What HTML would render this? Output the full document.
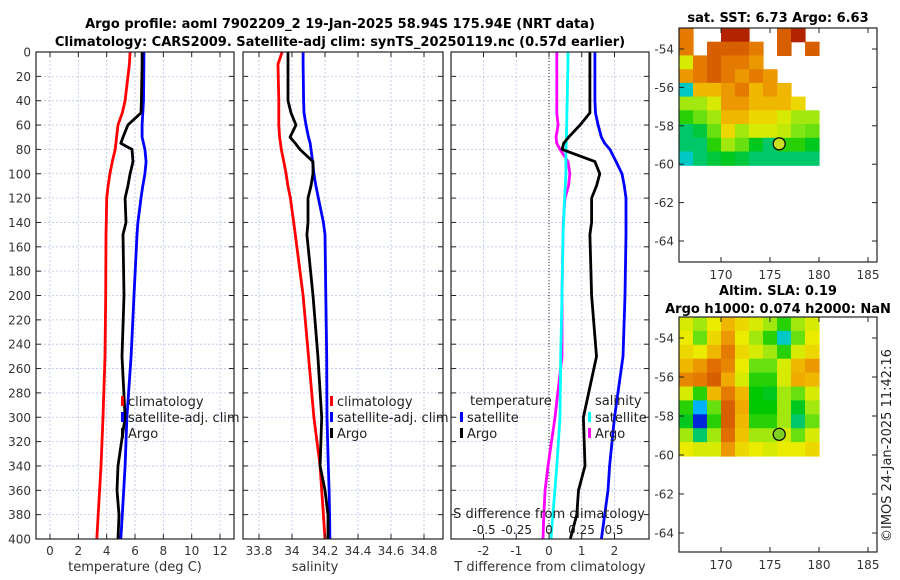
<!DOCTYPE html>
<html><head><meta charset="utf-8">
<style>
body{margin:0;background:#fff;}
svg{display:block;font-family:"DejaVu Sans","Liberation Sans",sans-serif;}
</style></head>
<body>
<svg id="fig" width="900" height="580" viewBox="0 0 900 580">
<text x="340" y="28" font-size="13" font-weight="bold" text-anchor="middle">Argo profile: aoml 7902209_2 19-Jan-2025 58.94S 175.94E (NRT data)</text>
<text x="340" y="46" font-size="13" font-weight="bold" text-anchor="middle">Climatology: CARS2009. Satellite-adj clim: synTS_20250119.nc (0.57d earlier)</text>
<text x="778" y="22" font-size="13" font-weight="bold" text-anchor="middle">sat. SST: 6.73 Argo: 6.63</text>
<text x="778" y="295" font-size="13" font-weight="bold" text-anchor="middle">Altim. SLA: 0.19</text>
<text x="778" y="313" font-size="13" font-weight="bold" text-anchor="middle">Argo h1000: 0.074 h2000: NaN</text>
<text transform="translate(891,542) rotate(-90)" font-size="13" fill="#222">©IMOS 24-Jan-2025 11:42:16</text>
</svg>
<script>
// ---- data ----
const depths = [0,10,40,50,60,70,75,80,90,100,110,120,140,150,200,250,300,340,360,380,400];
const tempClim = [5.65,5.6,5.3,5.1,4.8,4.7,4.65,4.6,4.4,4.23,4.1,4.0,3.97,3.95,3.93,3.88,3.74,3.6,3.5,3.4,3.3];
const tempSat = [6.63,6.63,6.6,6.55,6.5,6.5,6.6,6.7,6.78,6.7,6.55,6.42,6.2,6.14,5.93,5.72,5.43,5.3,5.2,5.1,5.0];
const tempArgo = [6.5,6.5,6.45,6.42,5.5,5.15,5.0,5.79,5.86,5.65,5.5,5.3,5.36,5.15,5.22,5.08,5.3,4.8,4.73,4.87,4.8];
const salClim = [33.94,33.915,33.92,33.92,33.92,33.925,33.93,33.935,33.95,33.964,33.975,33.99,34.01,34.02,34.067,34.10,34.133,34.17,34.18,34.19,34.2];
const salSat = [34.067,34.067,34.07,34.073,34.085,34.1,34.11,34.115,34.125,34.133,34.145,34.16,34.19,34.2,34.205,34.21,34.212,34.22,34.225,34.228,34.23];
const salArgo = [33.976,33.976,33.976,33.994,34.024,33.988,34.02,34.048,34.127,34.127,34.115,34.097,34.097,34.09,34.127,34.157,34.18,34.17,34.2,34.218,34.218];
const tDiffSat = [1.4,1.4,1.4,1.42,1.5,1.6,1.7,1.86,2.05,2.23,2.3,2.35,2.35,2.35,2.32,2.26,2.0,1.85,1.8,1.7,1.6];
const tDiffArgo = [1.25,1.25,1.25,1.25,0.95,0.6,0.45,0.4,1.4,1.55,1.45,1.3,1.3,1.25,1.3,1.45,1.05,1.1,0.9,0.85,0.65];
const sDiffSat = [0.146,0.145,0.14,0.138,0.136,0.134,0.132,0.13,0.13,0.13,0.125,0.12,0.112,0.108,0.1,0.09,0.085,0.06,0.045,0.03,0.015];
const sDiffArgo = [0.06,0.06,0.06,0.06,0.07,0.054,0.06,0.085,0.146,0.16,0.15,0.123,0.11,0.108,0.1,0.1,0.046,-0.008,-0.03,-0.04,-0.046];
const depthTicks = [0,20,40,60,80,100,120,140,160,180,200,220,240,260,280,300,320,340,360,380,400];
const tempTicks = [0,2,4,6,8,10,12];
const salTicks = [33.8,34,34.2,34.4,34.6,34.8];
const salTickLabels = ["33.8","34","34.2","34.4","34.6","34.8"];
const tDiffTicks = [-2,-1,0,1,2];
const sDiffTicks = [-0.5,-0.25,0,0.25,0.5];
const sDiffTickLabels = ["-0.5","-0.25","0","0.25","0.5"];
const latTicks = [-54,-56,-58,-60,-62,-64];
const lonTicks = [170,175,180,185];
const argoLon = 175.94, argoLat = -58.94;
const sstGrid = [
[0.8,-1,-1,0.95,0.95,-1,-1,0.85,0.95,-1],
[0.8,-1,0.85,0.85,0.85,0.8,-1,0.85,-1,0.85],
[0.6,0.8,0.85,0.8,0.8,0.75,-1,-1,-1,-1],
[0.75,0.8,0.85,0.8,0.75,0.8,0.75,-1,-1,-1],
[0.3,0.7,0.7,0.75,0.8,0.7,0.75,0.7,-1,-1],
[0.55,0.55,0.6,0.75,0.75,0.7,0.7,0.7,0.65,-1],
[0.45,0.5,0.55,0.7,0.7,0.65,0.65,0.6,0.55,0.55],
[0.35,0.38,0.5,0.65,0.55,0.6,0.6,0.58,0.52,0.5],
[0.35,0.35,0.45,0.55,0.5,0.4,0.35,0.45,0.45,0.4],
[0.3,0.35,0.38,0.4,0.38,0.35,0.35,0.35,0.35,0.35]];
const slaGrid = [
[0.6,0.55,0.62,0.7,0.65,0.6,0.55,0.45,0.55,0.6],
[0.62,0.5,0.65,0.75,0.62,0.55,0.45,0.3,0.5,0.62],
[0.65,0.62,0.7,0.8,0.65,0.6,0.55,0.45,0.6,0.65],
[0.7,0.75,0.82,0.78,0.62,0.5,0.5,0.6,0.7,0.75],
[0.78,0.8,0.85,0.72,0.6,0.45,0.45,0.6,0.72,0.7],
[0.6,0.45,0.7,0.8,0.7,0.42,0.4,0.55,0.5,0.6],
[0.45,0.25,0.5,0.85,0.72,0.42,0.42,0.55,0.4,0.55],
[0.4,0.1,0.45,0.85,0.7,0.45,0.45,0.55,0.35,0.5],
[0.55,0.35,0.55,0.82,0.68,0.55,0.55,0.6,0.5,0.6],
[0.62,0.6,0.6,0.75,0.65,0.62,0.6,0.62,0.62,0.65]];

// ---- helpers ----
const svg = document.getElementById('fig');
const NS = 'http://www.w3.org/2000/svg';
function mk(tag, attrs, parent){const e=document.createElementNS(NS,tag);for(const k in attrs)e.setAttribute(k,attrs[k]);(parent||svg).appendChild(e);return e;}
const TOP=52, BOT=539;
const yD = d => TOP + d*(BOT-TOP)/400;

function panel(name,left,right,xs,ticks){
  const g=mk('g',{});
  
  
  ticks.forEach(t=>{const x=xs(t);mk('line',{x1:x,x2:x,y1:TOP,y2:BOT,stroke:'#b8c4e8','stroke-width':0.8,'stroke-dasharray':'2,2'},g);});
  depthTicks.forEach(d=>{mk('line',{x1:left,x2:right,y1:yD(d),y2:yD(d),stroke:'#b8c4e8','stroke-width':0.8,'stroke-dasharray':'2,2'},g);});
  return g;
}
function frame(g,left,right,xs,ticks,labels,showDepth){
  mk('rect',{x:left,y:TOP,width:right-left,height:BOT-TOP,fill:'none',stroke:'#222','stroke-width':1.2},g);
  ticks.forEach((t,i)=>{const x=xs(t);
    mk('line',{x1:x,x2:x,y1:BOT,y2:BOT-5,stroke:'#222'},g);mk('line',{x1:x,x2:x,y1:TOP,y2:TOP+5,stroke:'#222'},g);
    const tx=mk('text',{x:x,y:BOT+16,'font-size':12,'text-anchor':'middle',fill:'#333'},g);tx.textContent=labels?labels[i]:String(t);
    
    
  });
  depthTicks.forEach(d=>{const y=yD(d);
    mk('line',{x1:left,x2:left+5,y1:y,y2:y,stroke:'#222'},g);mk('line',{x1:right,x2:right-5,y1:y,y2:y,stroke:'#222'},g);
    if(showDepth){const tx=mk('text',{x:left-5,y:y+4.5,'font-size':12,'text-anchor':'end',fill:'#333'},g);tx.textContent=String(d);
      
      }
  });
}
function line(g,vals,xs,color,name){
  const pts=vals.map((v,i)=>xs(v).toFixed(1)+','+yD(depths[i]).toFixed(1)).join(' ');
  const p=mk('polyline',{points:pts,fill:'none',stroke:color,'stroke-width':2.8,'stroke-linejoin':'round'},g);
  
  
}
function legItem(g,x,y,color,label){
  if(color) mk('rect',{x:x,y:y-10,width:3,height:10,fill:color},g);
  const t=mk('text',{x:x+7,y:y,'font-size':13,fill:'#222'},g);t.textContent=label;
  
  
}
function xlabel(g,x,text){const t=mk('text',{x:x,y:571,'font-size':13,'text-anchor':'middle',fill:'#333'},g);t.textContent=text;
  
  }

// Panel 1 temperature
const xT = t => 50 + t*14.17;
let g1=panel('temperature-panel',36,234,xT,tempTicks);
line(g1,tempClim,xT,'#ff0000','temp-climatology-line');
line(g1,tempSat,xT,'#0000ff','temp-satellite-line');
line(g1,tempArgo,xT,'#000000','temp-argo-line');
frame(g1,36,234,xT,tempTicks,null,true);
legItem(g1,121,406,'#ff0000','climatology');legItem(g1,121,422,'#0000ff','satellite-adj. clim');legItem(g1,121,438,'#000000','Argo');
xlabel(g1,135,'temperature (deg C)');

// Panel 2 salinity
const xS = s => 259 + (s-33.8)*165;
let g2=panel('salinity-panel',243,443,xS,salTicks);
line(g2,salClim,xS,'#ff0000','sal-climatology-line');
line(g2,salSat,xS,'#0000ff','sal-satellite-line');
line(g2,salArgo,xS,'#000000','sal-argo-line');
frame(g2,243,443,xS,salTicks,salTickLabels,false);
legItem(g2,330,406,'#ff0000','climatology');legItem(g2,330,422,'#0000ff','satellite-adj. clim');legItem(g2,330,438,'#000000','Argo');
xlabel(g2,315,'salinity');

// Panel 3 differences
const xTd = d => 549 + d*32.75;
const xSd = d => 549 + d*130;
let g3=panel('difference-panel',451,649,xTd,tDiffTicks);
mk('line',{x1:549,x2:549,y1:TOP,y2:BOT,stroke:'#333','stroke-width':1,'stroke-dasharray':'1,2'},g3);
line(g3,sDiffArgo,xSd,'#ff00ff','s-diff-argo-line');
line(g3,sDiffSat,xSd,'#00ffff','s-diff-satellite-line');
line(g3,tDiffArgo,xTd,'#000000','t-diff-argo-line');
line(g3,tDiffSat,xTd,'#0000ff','t-diff-satellite-line');
frame(g3,451,649,xTd,tDiffTicks,null,false);
legItem(g3,463,405,null,'temperature');legItem(g3,460,422,'#0000ff','satellite');legItem(g3,460,438,'#000000','Argo');
legItem(g3,588,405,null,'salinity');legItem(g3,588,422,'#00ffff','satellite');legItem(g3,588,438,'#ff00ff','Argo');
{const t=mk('text',{x:549,y:518,'font-size':13,'text-anchor':'middle',fill:'#222'},g3);t.textContent='S difference from climatology';
 
 }
sDiffTicks.forEach((s,i)=>{const t=mk('text',{x:xSd(s),y:534,'font-size':12,'text-anchor':'middle',fill:'#222'},g3);t.textContent=sDiffTickLabels[i];
 
 });
xlabel(g3,550,'T difference from climatology');

// ---- maps ----
const stops=[[0,[0,0,140]],[0.15,[0,60,255]],[0.27,[0,200,255]],[0.34,[0,200,120]],[0.42,[0,200,0]],[0.52,[130,230,20]],[0.62,[235,235,0]],[0.72,[240,170,0]],[0.82,[225,110,0]],[0.9,[200,70,0]],[1,[160,0,0]]];
function cmap(v){for(let i=1;i<stops.length;i++){if(v<=stops[i][0]){const a=stops[i-1],b=stops[i];const f=(v-a[0])/(b[0]-a[0]);const c=a[1].map((x,k)=>Math.round(x+(b[1][k]-x)*f));return 'rgb('+c.join(',')+')';}}return 'rgb(160,0,0)';}
const xLon = lon => 721 + (lon-170)*9.8;
function map(name,top,bottom,latY,grid,markerColor){
  const g=mk('g',{});
  
  
  const x0=679,x1=xLon(180),y0=top,y1=latY(-60)+1;
  const cw=(x1-x0)/grid[0].length,ch=(y1-y0)/grid.length;
  grid.forEach((row,r)=>row.forEach((v,c)=>{ if(v<0)return;
    const cell=mk('rect',{x:(x0+c*cw).toFixed(1),y:(y0+r*ch).toFixed(1),width:(cw+0.6).toFixed(1),height:(ch+0.6).toFixed(1),fill:cmap(v)},g);
    
    
  }));
  const m=mk('circle',{cx:xLon(argoLon),cy:latY(argoLat),r:6,fill:markerColor,stroke:'#000','stroke-width':1.2},g);
  
  
  mk('rect',{x:679,y:top,width:877-679,height:bottom-top,fill:'none',stroke:'#222','stroke-width':1.2},g);
  latTicks.forEach(l=>{const y=latY(l);
    mk('line',{x1:679,x2:684,y1:y,y2:y,stroke:'#222'},g);mk('line',{x1:877,x2:872,y1:y,y2:y,stroke:'#222'},g);
    const t=mk('text',{x:674,y:y+4.5,'font-size':12,'text-anchor':'end',fill:'#333'},g);t.textContent=String(l);
    
    });
  lonTicks.forEach(l=>{const x=xLon(l);
    mk('line',{x1:x,x2:x,y1:bottom,y2:bottom-5,stroke:'#222'},g);mk('line',{x1:x,x2:x,y1:top,y2:top+5,stroke:'#222'},g);
    const t=mk('text',{x:x,y:bottom+17,'font-size':12,'text-anchor':'middle',fill:'#333'},g);t.textContent=String(l);
    
    });
}
map('sst-map',28,262,l=>49+(-54-l)*19.2,sstGrid,'#c8e020');
map('sla-map',317,552,l=>338+(-54-l)*19.5,slaGrid,'#80d020');
</script>
</body></html>
